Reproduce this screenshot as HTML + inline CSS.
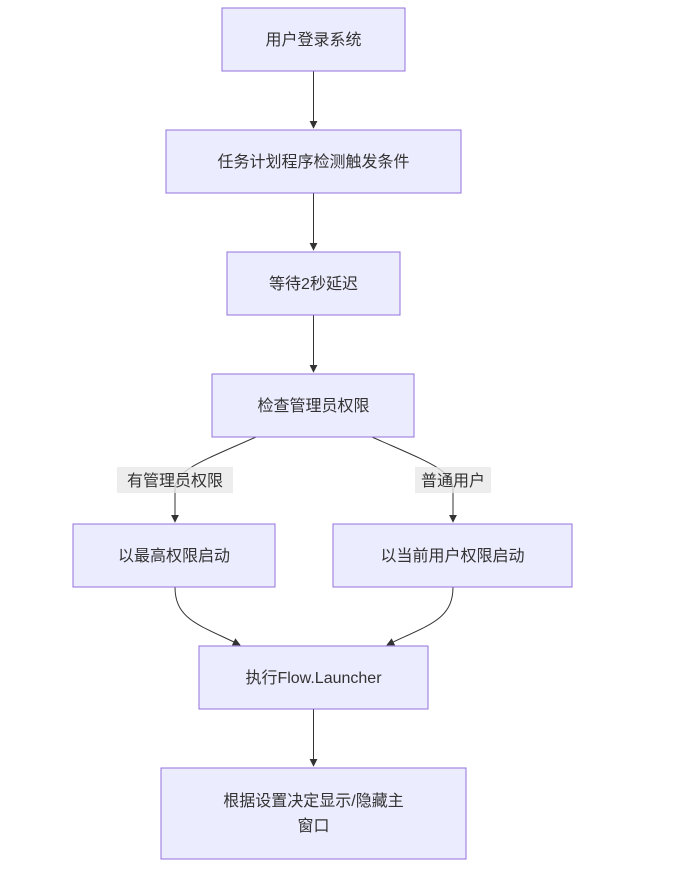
<!DOCTYPE html>
<html><head><meta charset="utf-8"><style>
html,body{margin:0;padding:0;background:#fff;}
svg{display:block;}
text{font-family:"Liberation Sans","Noto Sans CJK SC",sans-serif;font-size:16px;fill:#333;}
.n{fill:#ECECFF;stroke:#9370DB;stroke-width:1;}
.e{fill:none;stroke:#333;stroke-width:1;}
</style></head><body>
<svg width="681" height="872" viewBox="0 0 681 872" xmlns="http://www.w3.org/2000/svg">
<defs><marker id="a" viewBox="0 0 10 10" refX="9" refY="5" markerWidth="8" markerHeight="8" orient="auto"><path d="M0,0L10,5L0,10z" fill="#333"/></marker></defs>
<path class="e" d="M313.5,71V128" marker-end="url(#a)"/>
<path class="e" d="M313.5,193V250" marker-end="url(#a)"/>
<path class="e" d="M313.5,315V372" marker-end="url(#a)"/>
<path class="e" d="M256,437C200,462 175,470 175,490V522" marker-end="url(#a)"/>
<path class="e" d="M372,437C428,462 453,470 453,490V522" marker-end="url(#a)"/>
<path class="e" d="M175,587C175,620 200,625 240,645" marker-end="url(#a)"/>
<path class="e" d="M453,587C453,620 428,625 387,645" marker-end="url(#a)"/>
<path class="e" d="M313.5,709V766" marker-end="url(#a)"/>
<rect x="117" y="467" width="116" height="26" fill="#e8e8e8" opacity="0.8"/>
<text x="175" y="486" text-anchor="middle">有管理员权限</text>
<rect x="415" y="467" width="76" height="26" fill="#e8e8e8" opacity="0.8"/>
<text x="453" y="486" text-anchor="middle">普通用户</text>
<rect class="n" x="222" y="8" width="183" height="63"/><text x="313.5" y="45" text-anchor="middle">用户登录系统</text>
<rect class="n" x="166" y="130" width="295" height="63"/><text x="313.5" y="167" text-anchor="middle">任务计划程序检测触发条件</text>
<rect class="n" x="227" y="252" width="173" height="63"/><text x="313.5" y="289" text-anchor="middle">等待2秒延迟</text>
<rect class="n" x="212" y="374" width="202" height="63"/><text x="313.5" y="411" text-anchor="middle">检查管理员权限</text>
<rect class="n" x="73" y="524" width="202" height="63"/><text x="174" y="561" text-anchor="middle">以最高权限启动</text>
<rect class="n" x="333" y="524" width="239" height="63"/><text x="452.5" y="561" text-anchor="middle">以当前用户权限启动</text>
<rect class="n" x="199" y="646" width="229" height="63"/><text x="313.5" y="683" text-anchor="middle">执行Flow.Launcher</text>
<rect class="n" x="161" y="768" width="305" height="91"/><text x="313.5" y="806" text-anchor="middle">根据设置决定显示/隐藏主</text><text x="313.5" y="831" text-anchor="middle">窗口</text>
</svg>
</body></html>
